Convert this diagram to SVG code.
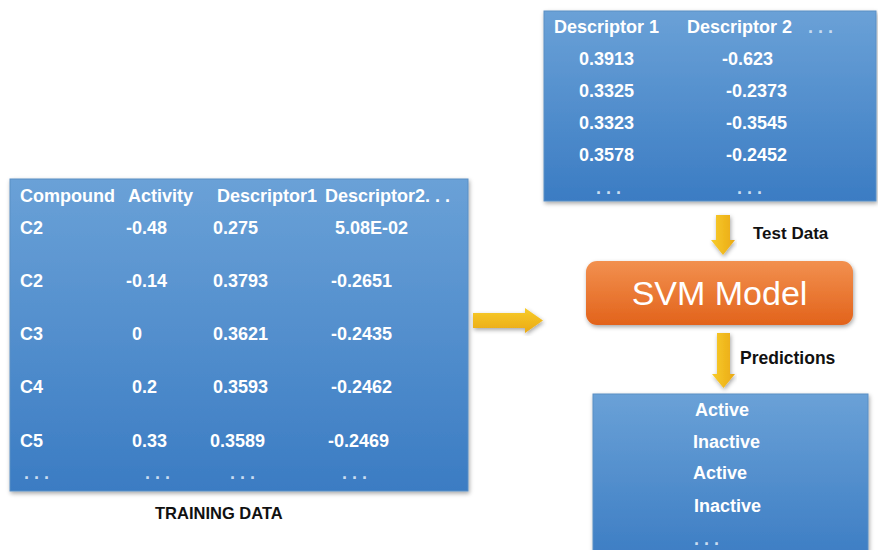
<svg xmlns="http://www.w3.org/2000/svg" width="878" height="550" viewBox="0 0 878 550">
<defs>
<linearGradient id="blue" x1="0" y1="0" x2="0" y2="1">
<stop offset="0" stop-color="#6aa1d7"/>
<stop offset="1" stop-color="#3b7cc3"/>
</linearGradient>
<linearGradient id="orange" x1="0" y1="0" x2="0" y2="1">
<stop offset="0" stop-color="#f2904f"/>
<stop offset="1" stop-color="#e2631b"/>
</linearGradient>
<linearGradient id="yel" x1="0" y1="0" x2="0" y2="1">
<stop offset="0" stop-color="#f8cc2a"/>
<stop offset="1" stop-color="#eaa915"/>
</linearGradient>
<linearGradient id="yelv" x1="0" y1="0" x2="1" y2="0">
<stop offset="0" stop-color="#f8cc2a"/>
<stop offset="1" stop-color="#eaa915"/>
</linearGradient>
<filter id="sh" x="-5%" y="-5%" width="110%" height="115%">
<feDropShadow dx="1" dy="2" stdDeviation="2" flood-color="#000" flood-opacity="0.35"/>
</filter>
</defs>
<style>
.box{fill:url(#blue);stroke:#5b8fc4;stroke-width:1;filter:url(#sh)}
.w{font-family:"Liberation Sans",Arial,sans-serif;font-weight:bold;font-size:18px;fill:#ffffff}
.d{font-family:"Liberation Sans",Arial,sans-serif;font-weight:bold;font-size:18px;fill:#c9ddf1}
.k{font-family:"Liberation Sans",Arial,sans-serif;font-weight:bold;fill:#111111}
.arr{filter:url(#sh)}
</style>

<g id="training">
<rect class="box" x="10" y="179" width="458" height="312"/>
<text class="w" x="20" y="202">Compound</text>
<text class="w" x="128" y="202">Activity</text>
<text class="w" x="217" y="202">Descriptor1</text>
<text class="w" x="325" y="202">Descriptor2. . .</text>
<text class="w" x="20" y="234">C2</text>
<text class="w" x="126" y="234">-0.48</text>
<text class="w" x="213" y="234">0.275</text>
<text class="w" x="335" y="234">5.08E-02</text>
<text class="w" x="20" y="287">C2</text>
<text class="w" x="126" y="287">-0.14</text>
<text class="w" x="213" y="287">0.3793</text>
<text class="w" x="331" y="287">-0.2651</text>
<text class="w" x="20" y="340">C3</text>
<text class="w" x="132" y="340">0</text>
<text class="w" x="213" y="340">0.3621</text>
<text class="w" x="331" y="340">-0.2435</text>
<text class="w" x="20" y="393">C4</text>
<text class="w" x="132" y="393">0.2</text>
<text class="w" x="213" y="393">0.3593</text>
<text class="w" x="331" y="393">-0.2462</text>
<text class="w" x="20" y="447">C5</text>
<text class="w" x="132" y="447">0.33</text>
<text class="w" x="210" y="447">0.3589</text>
<text class="w" x="328" y="447">-0.2469</text>
<text class="d" x="24" y="479">. . .</text>
<text class="d" x="145" y="479">. . .</text>
<text class="d" x="230" y="479">. . .</text>
<text class="d" x="342" y="479">. . .</text>
</g>

<g id="training-label">
<text class="k" x="155" y="519" font-size="16.5">TRAINING DATA</text>
</g>

<g id="test">
<rect class="box" x="544" y="11" width="332" height="190"/>
<text class="w" x="554" y="33">Descriptor 1</text>
<text class="w" x="687" y="33">Descriptor 2</text>
<text class="d" x="808" y="33">. . .</text>
<text class="w" x="579" y="65">0.3913</text>
<text class="w" x="722" y="65">-0.623</text>
<text class="w" x="579" y="97">0.3325</text>
<text class="w" x="726" y="97">-0.2373</text>
<text class="w" x="579" y="129">0.3323</text>
<text class="w" x="726" y="129">-0.3545</text>
<text class="w" x="579" y="161">0.3578</text>
<text class="w" x="726" y="161">-0.2452</text>
<text class="d" x="596" y="194">. . .</text>
<text class="d" x="737" y="194">. . .</text>
</g>

<g id="svm">
<rect x="586" y="261" width="267" height="64" rx="11" ry="11" fill="url(#orange)" filter="url(#sh)"/>
<text x="719.5" y="305" text-anchor="middle" font-family="Liberation Sans,Arial,sans-serif" font-size="34" fill="#ffffff">SVM Model</text>
</g>

<g id="predictions">
<rect class="box" x="593" y="394" width="275" height="170"/>
<text class="w" x="695" y="416">Active</text>
<text class="w" x="693" y="448">Inactive</text>
<text class="w" x="693" y="479">Active</text>
<text class="w" x="694" y="512">Inactive</text>
<text class="d" x="694" y="545">. . .</text>
</g>

<g id="connectors">
<path class="arr" d="M473,313 H525 V308 L543,320.5 L525,333 V328 H473 Z" fill="url(#yel)"/>
<path class="arr" d="M716,215 H730 V240 H735 L723,255 L711,240 H716 Z" fill="url(#yelv)"/>
<path class="arr" d="M717,333 H730 V374 H735 L723.5,388 L712,374 H717 Z" fill="url(#yelv)"/>
<text class="k" x="753" y="239" font-size="17">Test Data</text>
<text class="k" x="740" y="364" font-size="17.5">Predictions</text>
</g>
</svg>
